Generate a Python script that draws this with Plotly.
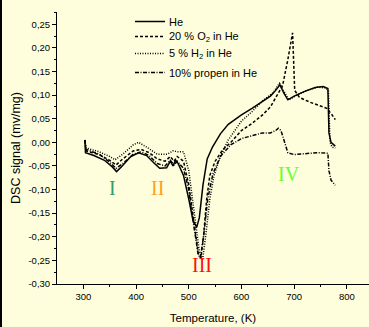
import plotly.graph_objects as go

# ---- data ----
he_T = [303, 304, 320, 340, 355, 363, 372, 390, 405, 420, 435, 445, 458, 465, 470, 475, 480, 490, 500, 508,
        515, 520, 527, 535, 545, 560, 575, 600, 620, 640, 655, 665, 673, 680, 688, 700, 720, 740, 755, 764, 766, 770, 778]
he_y = [0.005, -0.022, -0.028, -0.038, -0.052, -0.062, -0.052, -0.030, -0.022, -0.028, -0.045, -0.055, -0.054,
        -0.040, -0.050, -0.038, -0.045, -0.070, -0.120, -0.165, -0.180, -0.160, -0.090, -0.035, -0.010, 0.018,
        0.038, 0.058, 0.072, 0.086, 0.098, 0.110, 0.122, 0.105, 0.090, 0.098, 0.108, 0.116, 0.118, 0.114, 0.020,
        0.000, -0.008]

o2_T = [303, 305, 330, 350, 362, 375, 395, 410, 425, 440, 455, 465, 472, 478, 490, 500, 510, 518, 523, 528,
        534, 540, 550, 565, 580, 600, 620, 640, 655, 668, 678, 688, 697, 701, 710, 730, 750, 762, 772, 778]
o2_y = [0.005, -0.018, -0.026, -0.038, -0.048, -0.035, -0.018, -0.015, -0.022, -0.035, -0.040, -0.030, -0.040,
        -0.030, -0.040, -0.090, -0.170, -0.235, -0.245, -0.200, -0.120, -0.070, -0.040, -0.015, 0.000, 0.025,
        0.040, 0.058, 0.075, 0.100, 0.120, 0.175, 0.232, 0.110, 0.095, 0.085, 0.077, 0.072, 0.058, 0.048]

h2_T = [303, 305, 330, 350, 360, 375, 395, 405, 420, 440, 460, 470, 480, 490, 500, 510, 520, 526, 532, 540,
        548, 560, 575, 600, 620, 640, 660, 672, 680, 690, 705, 725, 745, 760, 765, 768, 772, 778]
h2_y = [0.005, -0.012, -0.020, -0.030, -0.037, -0.025, -0.005, 0.000, -0.010, -0.025, -0.025, -0.018, -0.020,
        -0.020, -0.060, -0.150, -0.230, -0.250, -0.200, -0.120, -0.070, -0.030, 0.005, 0.045, 0.065, 0.088,
        0.105, 0.125, 0.110, 0.090, 0.100, 0.110, 0.117, 0.115, 0.110, 0.000, -0.010, -0.012]

pr_T = [303, 305, 330, 350, 362, 375, 395, 410, 425, 440, 455, 465, 472, 478, 490, 500, 510, 518, 522, 528,
        536, 546, 560, 580, 600, 620, 640, 655, 665, 670, 675, 688, 700, 720, 745, 764, 766, 770, 778]
pr_y = [0.005, -0.015, -0.025, -0.042, -0.055, -0.045, -0.025, -0.020, -0.028, -0.045, -0.050, -0.038, -0.048,
        -0.040, -0.055, -0.100, -0.180, -0.238, -0.245, -0.200, -0.120, -0.066, -0.030, -0.005, 0.008, 0.014,
        0.020, 0.020, 0.025, 0.030, 0.025, -0.022, -0.026, -0.024, -0.022, -0.023, -0.060, -0.080, -0.091]

series_names = ["He", "20 % O<sub>2</sub> in He", "5 % H<sub>2</sub> in He", "10% propen in He"]
series_dash = ["solid", "3px,2px", "1px,1.5px", "4px,1.5px,1px,1.5px"]

x_tick_vals = [300, 400, 500, 600, 700, 800]
x_tick_labels = ["300", "400", "500", "600", "700", "800"]
y_tick_vals = [-0.30, -0.25, -0.20, -0.15, -0.10, -0.05, 0.00, 0.05, 0.10, 0.15, 0.20, 0.25]
y_tick_labels = ["-0,30", "-0,25", "-0,20", "-0,15", "-0,10", "-0,05", "0,00", "0,05", "0,10", "0,15", "0,20", "0,25"]

region_labels = ["I", "II", "III", "IV"]
region_T = [355, 441, 525, 690]
region_y = [-0.097, -0.097, -0.260, -0.068]
region_colors = ["#2E9E6A", "#FFA020", "#FF1010", "#66FF33"]

BG = "#FEFEDC"
W, H = 369, 327
ML, MR, MT, MB = 57, 0, 12, 43
PW, PH = W - ML - MR, H - MT - MB


def px_x(p):
    return (p - ML) / PW


def px_y(p):
    return 1 - (p - MT) / PH


fig = go.Figure()
for T, y, name, dash in zip([he_T, o2_T, h2_T, pr_T], [he_y, o2_y, h2_y, pr_y], series_names, series_dash):
    fig.add_trace(go.Scatter(x=T, y=y, mode="lines", name=name, showlegend=False,
                             line=dict(color="black", width=1.5, dash=dash)))

# legend (samples + labels) placed in the top-left area of the plot
legend_rows = [22, 37, 54, 73]
for name, dash, row in zip(series_names, series_dash, legend_rows):
    fig.add_shape(type="line", xref="paper", yref="paper",
                  x0=px_x(135), x1=px_x(165), y0=px_y(row - 0.5), y1=px_y(row - 0.5),
                  line=dict(color="black", width=1.5, dash=dash))
    fig.add_annotation(xref="paper", yref="paper", x=px_x(167), y=px_y(row),
                       xanchor="left", yanchor="middle", text=name, showarrow=False,
                       font=dict(size=11, color="black"))

for lab, tx, ty, col in zip(region_labels, region_T, region_y, region_colors):
    fig.add_annotation(x=tx, y=ty, text=lab, showarrow=False,
                       font=dict(family="Liberation Serif", size=20, color=col))

fig.add_shape(type="rect", xref="paper", yref="paper",
              x0=px_x(0), x1=px_x(2), y0=px_y(H), y1=px_y(0),
              fillcolor="black", line=dict(width=0))

fig.update_layout(
    width=W, height=H,
    margin=dict(l=ML, r=MR, t=MT, b=MB),
    paper_bgcolor=BG, plot_bgcolor=BG,
    font=dict(family="Liberation Sans", color="black"),
    showlegend=False,
    xaxis=dict(range=[250, 842], showgrid=False, zeroline=False,
               showline=True, linecolor="black", linewidth=1,
               ticks="outside", ticklen=4, tickcolor="black",
               tickvals=x_tick_vals, ticktext=x_tick_labels, tickfont=dict(size=9.5),
               minor=dict(tickvals=[350, 450, 550, 650, 750], ticks="outside", ticklen=2, tickcolor="black"),
               title=dict(text="Temperature, (K)", font=dict(size=11.5), standoff=12)),
    yaxis=dict(range=[-0.30, 0.276], showgrid=False, zeroline=False,
               showline=True, linecolor="black", linewidth=1,
               ticks="outside", ticklen=4, tickcolor="black",
               tickvals=y_tick_vals, ticktext=y_tick_labels, tickfont=dict(size=9.5),
               minor=dict(dtick=0.025, tick0=0, ticks="outside", ticklen=2, tickcolor="black"),
               title=dict(text="DSC signal (mv/mg)", font=dict(size=12.5), standoff=5)),
)

fig.write_html("out.html", config={"displayModeBar": False},
               post_script="document.body.style.margin='0px';")
